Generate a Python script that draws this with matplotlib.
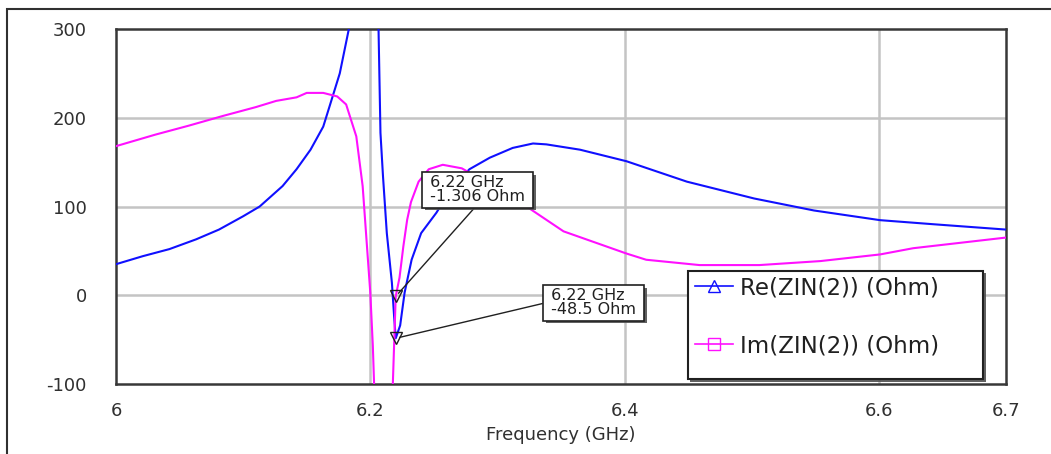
import matplotlib
matplotlib.use("Agg")
import matplotlib.pyplot as plt
from matplotlib.lines import Line2D
from matplotlib.patches import Rectangle
import matplotlib.patheffects as pe

plt.rcParams['font.family'] = ['DejaVu Sans']
plt.rcParams['axes.unicode_minus'] = False

# Re(ZIN(2)) sweep, Ohm
freq_re = [6.000, 6.021, 6.042, 6.063, 6.081, 6.100, 6.113, 6.131, 6.142, 6.153,
           6.163, 6.168, 6.176, 6.183, 6.190, 6.200, 6.2065, 6.208, 6.210, 6.213,
           6.217, 6.2187, 6.220, 6.2235, 6.227, 6.2325, 6.240, 6.252, 6.265, 6.278,
           6.294, 6.312, 6.328, 6.3385, 6.365, 6.4015, 6.449, 6.502, 6.549, 6.601,
           6.643, 6.700]
re_zin = [35, 44, 52, 63, 74, 89, 100, 123, 142, 164,
          190, 213, 250, 299, 420, 420, 299, 183, 134, 70,
          14, -23, -48.5, -34, 3, 40, 70, 93, 123, 142,
          155, 166, 171, 170, 164, 151, 128, 109, 95.5, 84.6,
          80, 74]

# Im(ZIN(2)) sweep, Ohm
freq_im = [6.000, 6.031, 6.057, 6.084, 6.110, 6.126, 6.142, 6.150, 6.163, 6.174,
           6.181, 6.189, 6.194, 6.197, 6.200, 6.202, 6.203, 6.206, 6.215, 6.2175,
           6.2189, 6.220, 6.223, 6.226, 6.229, 6.232, 6.238, 6.246, 6.257, 6.272,
           6.283, 6.295, 6.310, 6.326, 6.352, 6.4015, 6.417, 6.459, 6.506, 6.554,
           6.601, 6.627, 6.700]
im_zin = [168, 181, 191, 202, 212, 219, 223, 228, 228, 224,
          215, 179, 123, 63, 3, -57, -100, -200, -200, -110,
          -49, -1.306, 20, 55, 85, 105, 128, 142, 147, 143,
          134, 125, 112, 97, 72, 47, 40, 34, 34, 38.5,
          46, 53, 65]

# Marker readouts at the resonance
marker_freq = 6.22
marker_re = -48.5
marker_im = -1.306

x_ticks = [6.0, 6.2, 6.4, 6.6, 6.7]
x_tick_labels = ["6", "6.2", "6.4", "6.6", "6.7"]
y_ticks = [-100, 0, 100, 200, 300]
grid_x = [6.2, 6.4, 6.6]
grid_y = [0, 100, 200]
series_labels = ["Re(ZIN(2)) (Ohm)", "Im(ZIN(2)) (Ohm)"]

W, H = 1051, 454
fig = plt.figure(figsize=(W / 100, H / 100), dpi=100)
fig.patch.set_facecolor("white")


def fig_box(left, top, right, bottom):
    """Pixel box (origin top-left) -> figure-fraction (x, y, w, h)."""
    return left / W, 1 - bottom / H, (right - left) / W, (bottom - top) / H


# outer frame of the graph window
fig.add_artist(Rectangle((6.5 / W, -0.1), 1.2, 1 - 9 / H + 0.1,
                         transform=fig.transFigure, fill=False,
                         edgecolor="#303030", linewidth=1.5))

ax = fig.add_axes(fig_box(116, 29, 1006, 384))
ax.set_xlim(6.0, 6.7)
ax.set_ylim(-100, 300)

for gx in grid_x:
    ax.axvline(gx, color="#c4c4c4", linewidth=1.8, zorder=0)
for gy in grid_y:
    ax.axhline(gy, color="#c4c4c4", linewidth=1.8, zorder=0)

blue = "#1010ff"
magenta = "#ff10ff"
ax.plot(freq_re, re_zin, color=blue, linewidth=1.5, zorder=3)
ax.plot(freq_im, im_zin, color=magenta, linewidth=1.5, zorder=3)

# marker symbols
for v in (marker_im, marker_re):
    ax.plot([marker_freq], [v], marker="v", markersize=8, markerfacecolor="none",
            markeredgecolor="#202020", markeredgewidth=1.0, zorder=5)

shadow = [pe.SimplePatchShadow(offset=(2, -2), shadow_rgbFace="#505050", alpha=0.9),
          pe.Normal()]
box_style = dict(boxstyle="square,pad=0.2", facecolor="white",
                 edgecolor="#202020", linewidth=1.2)

a1 = ax.annotate(f" {marker_freq:.2f} GHz \n {marker_im} Ohm ",
                 xy=(marker_freq, marker_im), xytext=(425, 454 - 175),
                 textcoords="figure pixels",
                 fontsize=11.5, color="#202020", ha="left", va="top",
                 linespacing=0.95, bbox=box_style,
                 arrowprops=dict(arrowstyle="-", color="#202020", lw=1.0,
                                 shrinkA=0, shrinkB=3,
                                 relpos=(0.5, 0.0)), zorder=6)
a1.get_bbox_patch().set_path_effects(shadow)

a2 = ax.annotate(f" {marker_freq:.2f} GHz \n {marker_re} Ohm ",
                 xy=(marker_freq, marker_re), xytext=(546, 454 - 288),
                 textcoords="figure pixels",
                 fontsize=11.5, color="#202020", ha="left", va="top",
                 linespacing=0.95, bbox=box_style,
                 arrowprops=dict(arrowstyle="-", color="#202020", lw=1.0,
                                 shrinkA=0, shrinkB=3,
                                 relpos=(0.0, 0.5)), zorder=6)
a2.get_bbox_patch().set_path_effects(shadow)

ax.set_xticks(x_ticks)
ax.set_xticklabels(x_tick_labels)
ax.set_yticks(y_ticks)
ax.tick_params(length=0, labelsize=13, labelcolor="#303030")
ax.tick_params(axis="y", pad=21)
ax.tick_params(axis="x", pad=13)
for s in ax.spines.values():
    s.set_color("#383838")
    s.set_linewidth(1.8)

ax.set_xlabel("Frequency (GHz)", fontsize=13, color="#303030", labelpad=4)

# legend: frame drawn as its own box, entries placed inside it
lx, ly, lw_, lh = fig_box(687.7, 270.7, 983.3, 379.3)
frame = Rectangle((lx, ly), lw_, lh,
                  transform=fig.transFigure, facecolor="white",
                  edgecolor="#202020", linewidth=1.5, zorder=7)
frame.set_path_effects(shadow)
fig.add_artist(frame)

handles = [
    Line2D([], [], color=blue, linewidth=1.2, marker="^", markersize=8,
           markerfacecolor="none", markeredgecolor=blue),
    Line2D([], [], color=magenta, linewidth=1.2, marker="s", markersize=8,
           markerfacecolor="none", markeredgecolor=magenta),
]
leg = fig.legend(handles, series_labels,
                 loc="upper left", bbox_to_anchor=(695 / W, 1 - 276.5 / H),
                 bbox_transform=fig.transFigure, fontsize=16.5,
                 frameon=False, labelspacing=1.52, borderpad=0,
                 handlelength=1.65, handletextpad=0.3, borderaxespad=0,
                 labelcolor="#202020")
leg.set_zorder(8)

fig.savefig("out.png", dpi=100, facecolor="white")
